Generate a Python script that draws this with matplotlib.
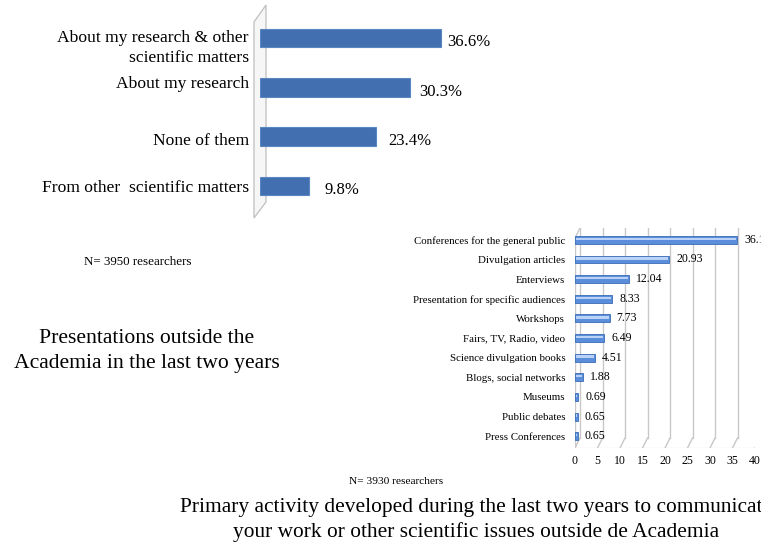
import matplotlib
matplotlib.use("Agg")
import matplotlib.pyplot as plt
from matplotlib.patches import Polygon
from matplotlib.lines import Line2D
import matplotlib.transforms as mtransforms

plt.rcParams['font.family'] = ['Liberation Serif', 'DejaVu Serif']

# Presentations outside the Academia (percent of researchers)
topics = ["About my research & other\nscientific matters", "About my research",
          "None of them", "From other  scientific matters"]
topic_pct = [36.6, 30.3, 23.4, 9.8]
topic_labels = ["36.6%", "30.3%", "23.4%", "9.8%"]

# Primary outreach activity (percent of researchers)
activities = ["Conferences for the general public", "Divulgation articles", "Enterviews",
              "Presentation for specific audiences", "Workshops", "Fairs, TV, Radio, video",
              "Science divulgation books", "Blogs, social networks", "Museums",
              "Public debates", "Press Conferences"]
activity_pct = [36.1, 20.93, 12.04, 8.33, 7.73, 6.49, 4.51, 1.88, 0.69, 0.65, 0.65]
activity_labels = ["36.1", "20.93", "12.04", "8.33", "7.73", "6.49", "4.51", "1.88",
                   "0.69", "0.65", "0.65"]
activity_ticks = [0, 5, 10, 15, 20, 25, 30, 35, 40]

W, H = 761, 547
fig = plt.figure(figsize=(W / 100, H / 100), dpi=100)


def frac(x, y):
    """Pixel position (from top-left) to figure fraction."""
    return x / W, 1 - y / H


def add_axes_px(left, top, right, bottom):
    x0, y1 = frac(left, top)
    x1, y0 = frac(right, bottom)
    return fig.add_axes([x0, y0, x1 - x0, y1 - y0])


# ---------------- upper chart ----------------
ax1 = add_axes_px(260, 5, 458, 218)
ax1.set_xlim(0, 40)
ax1.set_ylim(3.65, -0.67)
ax1.axis('off')

# thin side wall behind the bars
wall = Polygon([frac(254, 22), frac(266, 5), frac(266, 202), frac(254, 218)],
               closed=True, transform=fig.transFigure, facecolor='#F6F6F6',
               edgecolor='#C4C4C4', linewidth=1.0, zorder=-1)
fig.patches.append(wall)

ypos = list(range(len(topics)))
ax1.barh(ypos, topic_pct, height=0.38, color='#426FAF', edgecolor='#5A86C2',
         linewidth=0.8, zorder=3)

label_shift = [0.2, -0.07, 0.08, 0.04]
for i, (name, v, lab) in enumerate(zip(topics, topic_pct, topic_labels)):
    ax1.annotate(name, xy=(0, i + label_shift[i]), xytext=(-8, 0),
                 textcoords='offset points', ha='right', va='center',
                 fontsize=12.6, linespacing=1.35, annotation_clip=False)
    ax1.annotate(lab, xy=(v, i), xytext=(4 + 2.4 * i, -3),
                 textcoords='offset points', ha='left', va='center',
                 fontsize=12, annotation_clip=False)

fig.text(*frac(138, 262), "N= 3950 researchers", ha='center', va='center', fontsize=9.4)
fig.text(*frac(147, 351), "Presentations outside the\nAcademia in the last two years",
         ha='center', va='center', fontsize=15.6, linespacing=1.42)

# ---------------- lower chart ----------------
ax2 = add_axes_px(575, 228, 755, 448)
ax2.set_xlim(0, 40)
ax2.set_ylim(10.6, -0.6)
for s in ax2.spines.values():
    s.set_visible(False)

depth = mtransforms.ScaledTranslation(5 / 100, 5 / 100, fig.dpi_scale_trans)
back = ax2.get_xaxis_transform() + depth
front = ax2.get_xaxis_transform()
grid_c = '#C8C8C8'
dz = 5 / 220
for t in activity_ticks:
    ax2.add_line(Line2D([t, t], [dz, 1 - dz], transform=back, color=grid_c,
                        lw=1.0, zorder=1))
    # diagonal to the floor edge
    p_back = back.transform((t, dz))
    p_front = front.transform((t, 0))
    ax2.add_line(Line2D([p_back[0], p_front[0]], [p_back[1], p_front[1]],
                        transform=None, color=grid_c, lw=1.0, zorder=1))
# floor front edge and left wall
ax2.add_line(Line2D([0, 40], [0, 0], transform=front, color='#DADADA', lw=0.9))
ax2.add_line(Line2D([0, 0], [0, 1 - 2 * dz], transform=front, color=grid_c, lw=1.0))
ptop_b = back.transform((0, 1 - dz))
ptop_f = front.transform((0, 1 - 2 * dz))
ax2.add_line(Line2D([ptop_b[0], ptop_f[0]], [ptop_b[1], ptop_f[1]], transform=None,
                    color=grid_c, lw=1.0))

ypos2 = list(range(len(activities)))
ax2.barh(ypos2, activity_pct, height=0.4, color='#5A8EDA', edgecolor='#3B6CB6',
         linewidth=0.6, zorder=3)
ax2.barh([y - 0.05 for y in ypos2], [max(v - 0.5, 0.2) for v in activity_pct],
         left=0.25, height=0.12, color='#B9D2F5', linewidth=0, zorder=4)

ax2.set_yticks(ypos2)
ax2.set_yticklabels(activities, fontsize=7.8)
ax2.set_xticks(activity_ticks)
ax2.set_xticklabels([str(t) for t in activity_ticks], fontsize=8.5)
ax2.tick_params(axis='x', length=0, pad=5)
ax2.tick_params(axis='y', length=0, pad=7)

for i, (v, lab) in enumerate(zip(activity_pct, activity_labels)):
    ax2.annotate(lab, xy=(v, i), xytext=(5, 0), textcoords='offset points',
                 ha='left', va='center', fontsize=8.5, annotation_clip=False)

fig.text(*frac(396, 482), "N= 3930 researchers", ha='center', va='center', fontsize=8.2)
fig.text(*frac(476, 520),
         "Primary activity developed during the last two years to communicate\n"
         "your work or other scientific issues outside de Academia",
         ha='center', va='center', fontsize=15.4, linespacing=1.3)

fig.savefig("out.png", dpi=100)
